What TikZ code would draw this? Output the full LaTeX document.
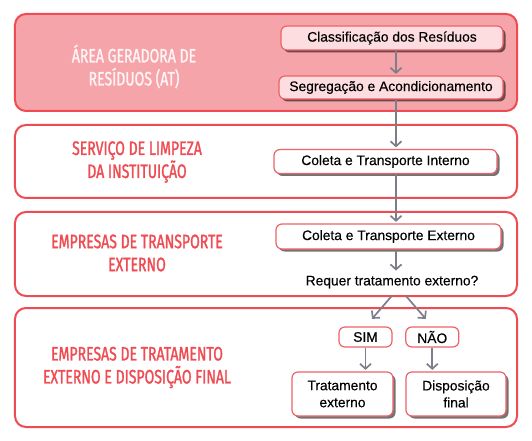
\documentclass[tikz,border=0pt]{standalone}
\usepackage{fontspec}
\setmainfont[FakeBold=0.25]{Liberation Sans}
\newfontfamily\labfont[FakeStretch=0.72,FakeBold=1.3]{Fira Sans}
\usetikzlibrary{arrows.meta,shadows,calc}
\definecolor{redline}{HTML}{EF4B52}
\definecolor{pinkfill}{HTML}{F5A4A9}
\definecolor{lightpink}{HTML}{FDDDE0}
\definecolor{boxline}{HTML}{EE6268}
\definecolor{arrowgray}{HTML}{7C7E8C}
\definecolor{labwhite}{HTML}{FFF4F5}
\begin{document}
\begin{tikzpicture}[x=1bp,y=-1bp,
  lane/.style={draw=redline, line width=2bp, rounded corners=11bp, inner sep=0pt, fill=white},
  lanelabel/.style={font=\labfont\fontsize{19.5bp}{23bp}\selectfont, text=redline, align=center, inner sep=0pt},
  stepbox/.style={draw=boxline, line width=1.2bp, rounded corners=6bp, fill=white, inner sep=0pt,
    font=\fontsize{13.8bp}{17bp}\selectfont, align=center,
    drop shadow={shadow xshift=2.5bp, shadow yshift=-2.5bp, fill=black, opacity=0.55}},
  choicebox/.style={draw=boxline, line width=1.2bp, rounded corners=6bp, fill=white, inner sep=0pt,
    font=\fontsize{13.8bp}{17bp}\selectfont, align=center},
  arr/.style={draw=arrowgray, line width=1.7bp, -{Straight Barb[length=5bp,width=11bp]}}
]
\useasboundingbox (0,0) rectangle (532,441);
% lanes
\node[lane, fill=pinkfill, minimum width=502bp, minimum height=97bp] (l1) at (266,62.5) {};
\node[lane, minimum width=502bp, minimum height=73bp] (l2) at (266,161.5) {};
\node[lane, minimum width=502bp, minimum height=84bp] (l3) at (266,254) {};
\node[lane, minimum width=502bp, minimum height=119bp] (l4) at (266,367.5) {};
% lane labels
\node[lanelabel, text=labwhite] (t1) at (134,66.5) {ÁREA GERADORA DE\\RESÍDUOS (AT)};
\node[lanelabel] (t2) at (137,162) {SERVIÇO DE LIMPEZA\\DA INSTITUIÇÃO};
\node[lanelabel] (t3) at (137,253) {EMPRESAS DE TRANSPORTE\\EXTERNO};
\node[lanelabel] (t4) at (137,367.5) {EMPRESAS DE TRATAMENTO\\EXTERNO E DISPOSIÇÃO FINAL};
% steps
\node[stepbox, fill=lightpink, minimum width=222bp, minimum height=24bp] (cls) at (392,38) {Classificação dos Resíduos};
\node[stepbox, fill=lightpink, minimum width=224bp, minimum height=23bp] (seg) at (391,87.5) {Segregação e Acondicionamento};
\node[stepbox, minimum width=223bp, minimum height=24bp] (cti) at (385.5,161.5) {Coleta e Transporte Interno};
\node[stepbox, minimum width=225bp, minimum height=25bp] (cte) at (388.5,236.5) {Coleta e Transporte Externo};
\node[inner sep=0pt, font=\fontsize{13.8bp}{17bp}\selectfont] (req) at (392,282) {Requer tratamento externo?};
\node[choicebox, minimum width=53bp, minimum height=20bp] (sim) at (365.5,337) {SIM};
\node[choicebox, minimum width=53bp, minimum height=20bp] (nao) at (432.3,337) {NÃO};
\node[stepbox, minimum width=101bp, minimum height=44bp] (trat) at (342.5,394) {Tratamento\\externo};
\node[stepbox, minimum width=100bp, minimum height=44bp] (disp) at (456,394) {Disposição\\final};
% connectors
\coordinate (spine) at (396,0);
\coordinate (dl) at (391.7,296);
\coordinate (dr) at (406,296);
\draw[arr, shorten >=1.5bp] (cls.south -| spine) -- (seg.north -| spine);
\draw[arr, shorten >=1.5bp] (seg.south -| spine) -- (cti.north -| spine);
\draw[arr, shorten >=1.5bp] (cti.south -| spine) -- (cte.north -| spine);
\draw[arr, shorten >=5bp] (cte.south -| spine) -- (req.north -| spine);
\draw[arr, shorten >=10bp] (dl) -- (sim.north);
\draw[arr, shorten >=10bp] (dr) -- (nao.north);
\draw[arr, shorten >=1.5bp] (sim.south) -- (sim.south |- trat.north);
\draw[arr, shorten >=1.5bp] (nao.south) -- (nao.south |- disp.north);
\end{tikzpicture}
\end{document}
